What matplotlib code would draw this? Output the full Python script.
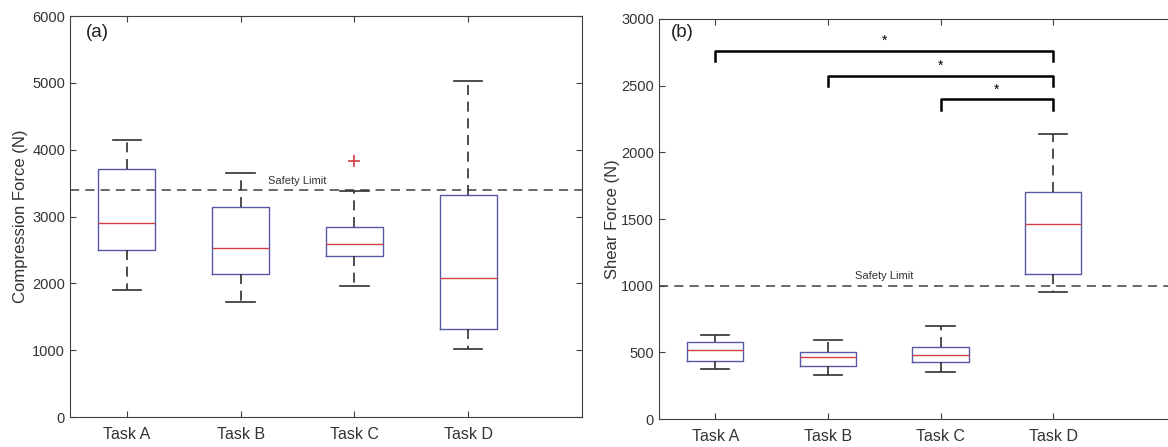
import matplotlib
matplotlib.use("Agg")
import matplotlib.pyplot as plt

plt.rcParams["font.family"] = ["Liberation Sans", "DejaVu Sans"]

# Data
tasks = ["Task A", "Task B", "Task C", "Task D"]

# (a) compression force: low whisker, Q1, median, Q3, high whisker
comp_low = [1900, 1715, 1955, 1020]
comp_q1 = [2500, 2142, 2402, 1315]
comp_med = [2900, 2526, 2591, 2078]
comp_q3 = [3712, 3140, 2840, 3318]
comp_high = [4147, 3647, 3383, 5027]
comp_outliers = [[], [], [3837], []]
comp_limit = 3400

# (b) shear force
shear_low = [375, 330, 352, 955]
shear_q1 = [437, 395, 427, 1090]
shear_med = [515, 465, 480, 1465]
shear_q3 = [577, 505, 540, 1702]
shear_high = [627, 590, 697, 2140]
shear_outliers = [[], [], [], []]
shear_limit = 1000

# significance brackets in (b): (from task, to task, bar height)
brackets = [(1, 4, 2762), (2, 4, 2575), (3, 4, 2400)]

BOX_BLUE = "#5858a8"
MED_RED = "#d04040"
AX_GREY = "#404040"


def make_stats(low, q1, med, q3, high, fliers):
    stats = []
    for i in range(len(low)):
        stats.append({"whislo": low[i], "q1": q1[i], "med": med[i],
                      "q3": q3[i], "whishi": high[i], "fliers": fliers[i]})
    return stats


def draw_boxes(ax, stats):
    ax.bxp(stats, positions=range(1, len(stats) + 1), widths=0.5,
           showfliers=True,
           boxprops=dict(color=BOX_BLUE, linewidth=1.0),
           medianprops=dict(color=MED_RED, linewidth=1.0),
           whiskerprops=dict(color="#303030", linewidth=1.2, linestyle=(0, (6, 4))),
           capprops=dict(color="#303030", linewidth=1.2),
           flierprops=dict(marker="+", markeredgecolor=MED_RED, markersize=8,
                           markeredgewidth=1.2, linestyle="none"))
    ax.set_xticks(range(1, len(tasks) + 1))
    ax.set_xticklabels(tasks)


def style_axes(ax):
    for s in ax.spines.values():
        s.set_color(AX_GREY)
        s.set_linewidth(0.8)
    ax.tick_params(direction="in", top=True, right=True, colors=AX_GREY,
                   labelcolor="#333333", labelsize=10.5, length=4)
    ax.tick_params(axis="x", labelsize=11.5, pad=7)


fig = plt.figure(figsize=(11.68, 4.47), dpi=100)

# Panel (a)
ax1 = fig.add_axes([0.0599, 0.0671, 0.4384, 0.8971])
draw_boxes(ax1, make_stats(comp_low, comp_q1, comp_med, comp_q3, comp_high, comp_outliers))
ax1.axhline(comp_limit, color="#404040", linestyle=(0, (6, 4)), linewidth=1.1, zorder=0)
ax1.text(2.5, comp_limit + 60, "Safety Limit", fontsize=8, color="#333333",
         ha="center", va="bottom")
ax1.set_xlim(0.5, 5.0)
ax1.set_ylim(0, 6000)
ax1.set_yticks(range(0, 6001, 1000))
ax1.set_ylabel("Compression Force (N)", fontsize=12, color="#333333", labelpad=3)
ax1.text(0.053, 0.958, "(a)", transform=ax1.transAxes, fontsize=13.5,
         ha="center", va="center", color="#222222")
style_axes(ax1)

# Panel (b)
ax2 = fig.add_axes([0.5642, 0.0626, 0.4358, 0.8949])
draw_boxes(ax2, make_stats(shear_low, shear_q1, shear_med, shear_q3, shear_high, shear_outliers))
ax2.axhline(shear_limit, color="#404040", linestyle=(0, (6, 4)), linewidth=1.1, zorder=0)
ax2.text(2.5, shear_limit + 35, "Safety Limit", fontsize=8, color="#333333",
         ha="center", va="bottom")
ax2.set_xlim(0.5, 5.02)
ax2.set_ylim(0, 3000)
ax2.set_yticks(range(0, 3001, 500))
ax2.set_ylabel("Shear Force (N)", fontsize=12, color="#333333", labelpad=1)
ax2.text(0.045, 0.965, "(b)", transform=ax2.transAxes, fontsize=13.5,
         ha="center", va="center", color="#222222")
style_axes(ax2)
ax2.spines["right"].set_visible(False)
ax2.tick_params(right=False)

for x0, x1, h in brackets:
    ax2.plot([x0, x0, x1, x1], [h - 80, h, h, h - 80], color="black", linewidth=1.8)
    ax2.text((x0 + x1) / 2, h + 20, "*", ha="center", va="bottom", fontsize=10)

fig.savefig("out.png", dpi=100)
